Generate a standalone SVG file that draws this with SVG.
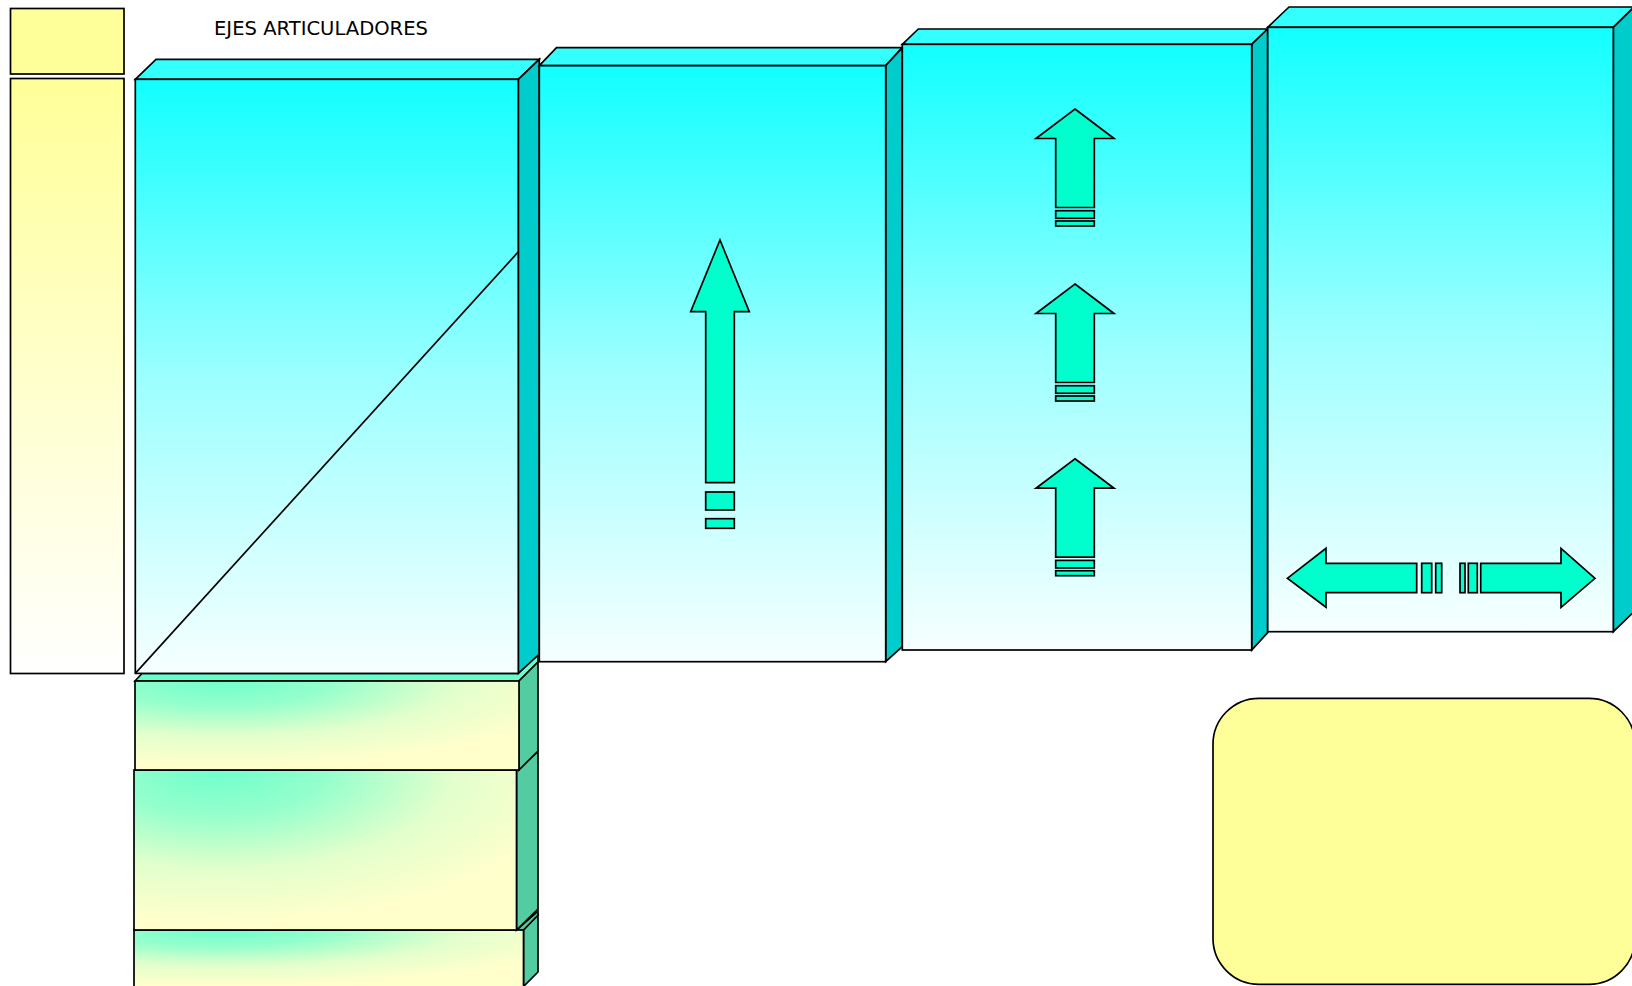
<svg xmlns="http://www.w3.org/2000/svg" width="1632" height="986" viewBox="0 0 1632 986">
<defs>
<linearGradient id="cyanG" x1="0" y1="0" x2="0" y2="1">
<stop offset="0" stop-color="#11FFFF"/>
<stop offset="0.5" stop-color="#9CFFFF"/>
<stop offset="1" stop-color="#F7FFFF"/>
</linearGradient>
<linearGradient id="yelG" x1="0" y1="0" x2="0" y2="1">
<stop offset="0" stop-color="#FFFF99"/>
<stop offset="1" stop-color="#FFFFFF"/>
</linearGradient>
<radialGradient id="grnG" cx="0.22" cy="0" r="0.95" fx="0.22" fy="0">
<stop offset="0" stop-color="#70FFCC"/>
<stop offset="0.3" stop-color="#95FFCC"/>
<stop offset="0.65" stop-color="#E2FFCC"/>
<stop offset="1" stop-color="#FFFFCC"/>
</radialGradient>
</defs>
<style>
.ln{stroke:#000;stroke-width:1.7;stroke-linejoin:miter}
.front{fill:url(#cyanG)}
.top{fill:#33FFFF}
.side{fill:#00CCCC}
.gfront{fill:url(#grnG)}
.gtop{fill:#66FFCC}
.gside{fill:#52CCA0}
.arr{fill:#00FFCC;stroke:#000;stroke-width:1.7}
.ttl{font-family:"DejaVu Sans",Verdana,sans-serif;font-size:19px;fill:#000}
</style>

<g id="yellow-small"><rect class="ln" x="10.5" y="8.5" width="113.5" height="65.5" fill="#FFFF99"/></g>
<g id="yellow-tall"><rect class="ln" x="10.5" y="78.5" width="113.5" height="595" fill="url(#yelG)"/></g>
<g id="title"><text class="ttl" x="214" y="35" textLength="214" lengthAdjust="spacingAndGlyphs">EJES ARTICULADORES</text></g>

<g id="green-box-3">
<polygon class="ln gside" points="523.5,930 538,915 538,972 523.5,986.5"/>
<polygon class="ln gside" points="516.5,930 538,911 538,915 523.5,930"/>
<rect class="ln gfront" x="134" y="930" width="389.5" height="58"/>
</g>
<g id="green-box-2">
<polygon class="ln gside" points="516.5,770 538,751.5 538,909 516.5,930"/>
<rect class="ln gfront" x="134" y="770" width="382.5" height="160"/>
</g>
<g id="green-box-1">
<polygon class="ln gtop" points="135,681 142,673.5 518,673.5 538,655 538,662 519,681"/>
<polygon class="ln gside" points="519,681 538,662 538,751 519,770"/>
<rect class="ln gfront" x="135" y="681" width="384" height="89"/>
</g>

<g id="prism-1">
<polygon class="ln top" points="135.3,79.3 156,59.3 539.3,59.3 518.3,79.3"/>
<polygon class="ln side" points="518.3,79.3 539.3,59.3 539.3,654 518.3,673.4"/>
<rect class="ln front" x="135.3" y="79.3" width="383" height="594.1"/>
<line class="ln" x1="135.3" y1="673.4" x2="518.3" y2="251.9"/>
</g>

<g id="prism-2">
<polygon class="ln top" points="539.3,65.7 556.5,47.7 902.3,47.7 885.7,65.7"/>
<polygon class="ln side" points="885.7,65.7 902.3,47.7 902.3,646.7 885.7,661.7"/>
<rect class="ln front" x="539.3" y="65.7" width="346.4" height="596"/>
<polygon class="arr" points="720,240 749.3,311.7 734.3,311.7 734.3,482.7 705.7,482.7 705.7,311.7 690.7,311.7"/>
<rect class="arr" x="705.7" y="492" width="28.6" height="18"/>
<rect class="arr" x="705.7" y="518.7" width="28.6" height="9.6"/>
</g>

<g id="prism-3">
<polygon class="ln top" points="902.3,44.3 918.3,29 1267.7,29 1251.7,44.3"/>
<polygon class="ln side" points="1251.7,44.3 1267.7,29 1267.7,632.7 1251.7,650"/>
<rect class="ln front" x="902.3" y="44.3" width="349.4" height="605.7"/>
</g>
<g id="arrow-up-1" transform="translate(0,109)">
<polygon class="arr" points="1075,0 1114,29.5 1094.3,29.5 1094.3,98.5 1055.7,98.5 1055.7,29.5 1036,29.5"/>
<rect class="arr" x="1055.7" y="101.7" width="38.6" height="7.6"/>
<rect class="arr" x="1055.7" y="112" width="38.6" height="5"/>
</g>
<g id="arrow-up-2" transform="translate(0,284)">
<polygon class="arr" points="1075,0 1114,29.5 1094.3,29.5 1094.3,98.5 1055.7,98.5 1055.7,29.5 1036,29.5"/>
<rect class="arr" x="1055.7" y="101.7" width="38.6" height="7.6"/>
<rect class="arr" x="1055.7" y="112" width="38.6" height="5"/>
</g>
<g id="arrow-up-3" transform="translate(0,458.7)">
<polygon class="arr" points="1075,0 1114,29.5 1094.3,29.5 1094.3,98.5 1055.7,98.5 1055.7,29.5 1036,29.5"/>
<rect class="arr" x="1055.7" y="101.7" width="38.6" height="7.6"/>
<rect class="arr" x="1055.7" y="112" width="38.6" height="5"/>
</g>

<g id="prism-4">
<polygon class="ln top" points="1267.7,27.3 1289,7 1634,7 1613.3,27.3"/>
<polygon class="ln side" points="1613.3,27.3 1634,7 1634,611.7 1613.3,631.7"/>
<rect class="ln front" x="1267.7" y="27.3" width="345.6" height="604.4"/>
<polygon class="arr" points="1287.3,578.3 1326,548.3 1326,563.3 1416.7,563.3 1416.7,592.7 1326,592.7 1326,607.3"/>
<rect class="arr" x="1421.7" y="563.3" width="10" height="29.4"/>
<rect class="arr" x="1435.7" y="563.3" width="6" height="29.4"/>
<rect class="arr" x="1460" y="563.3" width="5" height="29.4"/>
<rect class="arr" x="1468.3" y="563.3" width="9" height="29.4"/>
<polygon class="arr" points="1595,578.3 1561,548.3 1561,563.3 1480.7,563.3 1480.7,592.7 1561,592.7 1561,607.3"/>
</g>

<g id="yellow-rounded"><rect class="ln" x="1213" y="698.3" width="422" height="286" rx="46" ry="46" fill="#FFFF99"/></g>
</svg>
